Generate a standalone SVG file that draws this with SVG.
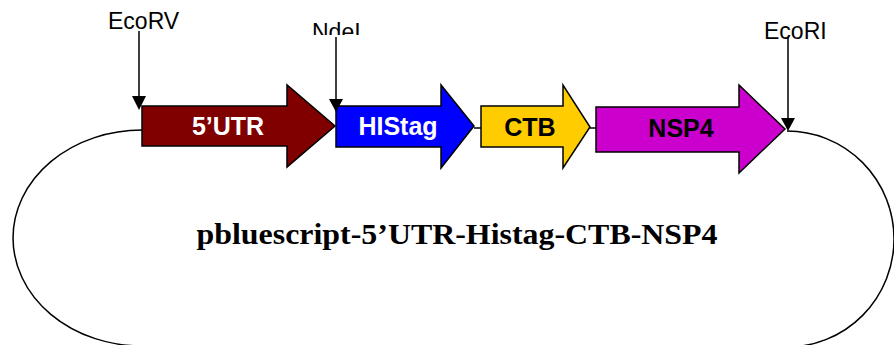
<svg xmlns="http://www.w3.org/2000/svg" width="894" height="345" viewBox="0 0 894 345">
<style>
.gene{stroke:#000;stroke-width:1.5;stroke-linejoin:miter}
.lbl{font-family:"Liberation Sans",Arial,sans-serif;font-weight:bold;font-size:25px;text-anchor:middle}
.site{font-family:"Liberation Sans",Arial,sans-serif;font-size:23px;fill:#000}
.cut{stroke:#000;stroke-width:1.5;fill:none}
.title{font-family:"Liberation Serif","Times New Roman",serif;font-weight:bold;font-size:29px;text-anchor:middle}
</style>
<defs>
<clipPath id="ndeclip"><rect x="300" y="0" width="80" height="35"/></clipPath>
</defs>
<rect width="894" height="345" fill="#fff"/>
<g id="backbone">
<path d="M142,130 A129,108 0 0 0 142,346" fill="none" stroke="#000" stroke-width="1.5"/>
<path d="M787,131 A107,108 0 0 1 787,347" fill="none" stroke="#000" stroke-width="1.5"/>
</g>
<g id="connectors">
<line x1="474" y1="128" x2="481" y2="128" stroke="#000" stroke-width="1.5"/>
<line x1="590" y1="128" x2="596" y2="128" stroke="#000" stroke-width="1.5"/>
</g>
<g id="utr5">
<polygon class="gene" fill="#800000" points="142,106 287,106 287,85 335,126 287,167 287,146 142,146"/>
<text class="lbl" x="228" y="135" fill="#fff">5’UTR</text>
</g>
<g id="histag">
<polygon class="gene" fill="#0000ff" points="336,106 441,106 441,85 474,126 441,168 441,147 336,147"/>
<text class="lbl" x="398" y="135" fill="#fff">HIStag</text>
</g>
<g id="ctb">
<polygon class="gene" fill="#ffcc00" points="481,106 563,106 563,85 590,127 563,168 563,147 481,147"/>
<text class="lbl" x="530" y="136" fill="#000">CTB</text>
</g>
<g id="nsp4">
<polygon class="gene" fill="#cc00cc" points="596,107 739,107 739,85 785,129 739,173 739,152 596,152"/>
<text class="lbl" x="681" y="137" fill="#000">NSP4</text>
</g>
<g id="ecorv">
<text class="site" x="108" y="29">EcoRV</text>
<line class="cut" x1="139" y1="31" x2="139" y2="98"/>
<polygon points="132,96 146,96 139,110" fill="#000"/>
</g>
<g id="ndei">
<text class="site" x="312" y="40" clip-path="url(#ndeclip)">NdeI</text>
<line class="cut" x1="336" y1="37" x2="336" y2="101"/>
<polygon points="329,99 343,99 336,112" fill="#000"/>
</g>
<g id="ecori">
<text class="site" x="764" y="39">EcoRI</text>
<line class="cut" x1="788" y1="37" x2="788" y2="120"/>
<polygon points="781,118 795,118 788,131" fill="#000"/>
</g>
<g id="plasmid-name">
<text class="title" x="457" y="244" textLength="521" lengthAdjust="spacingAndGlyphs">pbluescript-5’UTR-Histag-CTB-NSP4</text>
</g>
</svg>
